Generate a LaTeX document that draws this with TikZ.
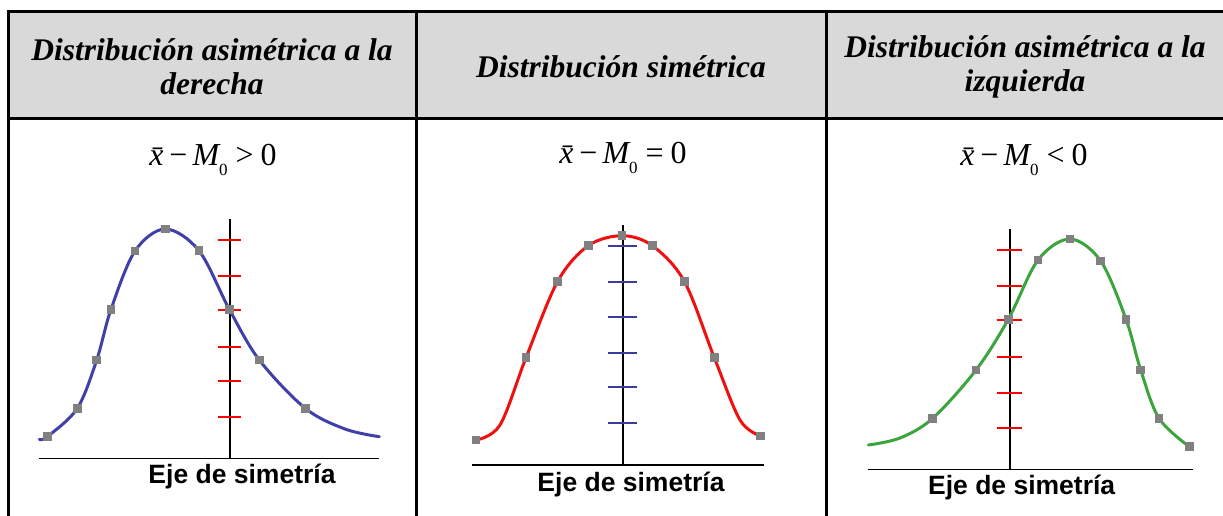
\documentclass[tikz,border=0pt]{standalone}
\usepackage{fontspec}
\setmainfont{Liberation Serif}
\newfontfamily\sansb{Liberation Sans}
\usetikzlibrary{calc}
\definecolor{hdrgray}{HTML}{D9D9D9}
\definecolor{mkgray}{HTML}{808080}
\definecolor{cblue}{HTML}{4040A8}
\definecolor{cred}{HTML}{F01010}
\definecolor{cgreen}{HTML}{3CA43C}
\definecolor{tickblue}{HTML}{3C3CA0}
\tikzset{
  border/.style={line width=3pt, black},
  hdrtext/.style={font=\fontsize{31.5}{34}\selectfont\bfseries\itshape, align=center, text=black},
  formula/.style={font=\fontsize{32}{34}\selectfont, inner sep=0pt},
  ejelabel/.style={font=\sansb\fontsize{26.5}{28}\selectfont\bfseries, inner sep=0pt},
  axisline/.style={line width=1.6pt, black},
  tickmark/.style={line width=2pt},
  curveline/.style={line width=3pt, line join=round, line cap=round},
  marker/.style={fill=mkgray, draw=none, minimum size=8.5pt, inner sep=0pt, shape=rectangle},
}
\newcommand{\xbarM}[1]{{\itshape x^^^^0304}\kern6pt−\kern5pt{\itshape M}\raisebox{-10pt}{\fontsize{17}{17}\selectfont 0}\kern8pt#1\kern7pt0}
\begin{document}
\begin{tikzpicture}[x=1pt,y=-1pt]
\useasboundingbox (0,0) rectangle (1223,515);
% header
\fill[hdrgray] (8,11) rectangle (1226,118);
\draw[border] (1226,11) -- (8,11) -- (8,518);
\draw[border] (8,118) -- (1226,118);
\draw[border] (416,11) -- (416,518);
\draw[border] (826,11) -- (826,518);
\node[hdrtext] (h1) at (212,67) {Distribución asimétrica a la\\derecha};
\node[hdrtext] (h2) at (621,67) {Distribución simétrica};
\node[hdrtext] (h3) at (1025,67) {Distribución asimétrica a la\\izquierda};
% formulas
\node[formula] (f1) at (213,160) {\xbarM{>}};
\node[formula] (f2) at (623,158) {\xbarM{=}};
\node[formula] (f3) at (1024,160) {\xbarM{<}};

% ---------- panel 1 ----------
\coordinate (b1l) at (39,458.5);
\coordinate (b1r) at (379,458.5);
\coordinate (a1t) at (230,219);
\coordinate (a1b) at (230,458.5);
\draw[axisline] (b1l) -- (b1r);
\draw[axisline] (a1t) -- (a1b);
\foreach \y in {240,276,310,346.7,381,417}
  \draw[tickmark, red] (217.7,\y) -- (241,\y);
\draw[curveline, cblue] plot[smooth, tension=0.55] coordinates {
 (39.3,439.3) (47.3,436.7) (77.3,408.3) (96.7,360) (111,309.3) (135,251) (165.3,229)
 (199,250.7) (229.3,309.3) (259.3,360) (305.3,408.3) (345,429) (379.3,436.7)};
\foreach \p in {(47.3,436.7),(77.3,408.3),(96.7,360),(111,309.3),(135,251),(165.3,229),(199,250.7),(229.3,309.3),(259.3,360),(305.3,408.3)}
  \node[marker] at \p {};
\node[ejelabel] (e1) at (242,477) {Eje de simetría};

% ---------- panel 2 ----------
\coordinate (b2l) at (471.7,465);
\coordinate (b2r) at (764.3,465);
\coordinate (a2t) at (622.7,225);
\coordinate (a2b) at (622.7,465);
\draw[axisline] (b2l) -- (b2r);
\draw[axisline] (a2t) -- (a2b);
\foreach \y in {246,282,316.7,352.7,387.3,423.3}
  \draw[tickmark, tickblue] (608.3,\y) -- (636.7,\y);
\draw[curveline, cred] plot[smooth, tension=0.55] coordinates {
 (476,440) (500,425) (526,357.7) (557.7,281.3) (588.3,245.7) (622,235.7) (652.3,245.7)
 (684.3,281.3) (714.3,357.7) (740,420) (760.7,436)};
\foreach \p in {(476,440),(526,357.7),(557.7,281.3),(588.3,245.7),(622,235.7),(652.3,245.7),(684.3,281.3),(714.3,357.7),(760.7,436)}
  \node[marker] at \p {};
\node[ejelabel] (e2) at (631,485) {Eje de simetría};

% ---------- panel 3 ----------
\coordinate (b3l) at (868.3,469.3);
\coordinate (b3r) at (1192.7,469.3);
\coordinate (a3t) at (1010,229.3);
\coordinate (a3b) at (1010,469.3);
\draw[axisline] (b3l) -- (b3r);
\draw[axisline] (a3t) -- (a3b);
\foreach \y in {250,286,320,356.7,392.7,427.7}
  \draw[tickmark, red] (996.7,\y) -- (1022.3,\y);
\draw[curveline, cgreen] plot[smooth, tension=0.55] coordinates {
 (868.3,445) (900,438) (932.7,418.3) (976,370) (1008.3,319.3) (1038,260) (1070,239)
 (1100.7,261) (1126,319.3) (1140.7,370) (1159,418.3) (1189.3,446.7)};
\foreach \p in {(932.7,418.3),(976,370),(1008.3,319.3),(1038,260),(1070,239),(1100.7,261),(1126,319.3),(1140.7,370),(1159,418.3),(1189.3,446.7)}
  \node[marker] at \p {};
\node[ejelabel] (e3) at (1021.7,488) {Eje de simetría};
\end{tikzpicture}
\end{document}
